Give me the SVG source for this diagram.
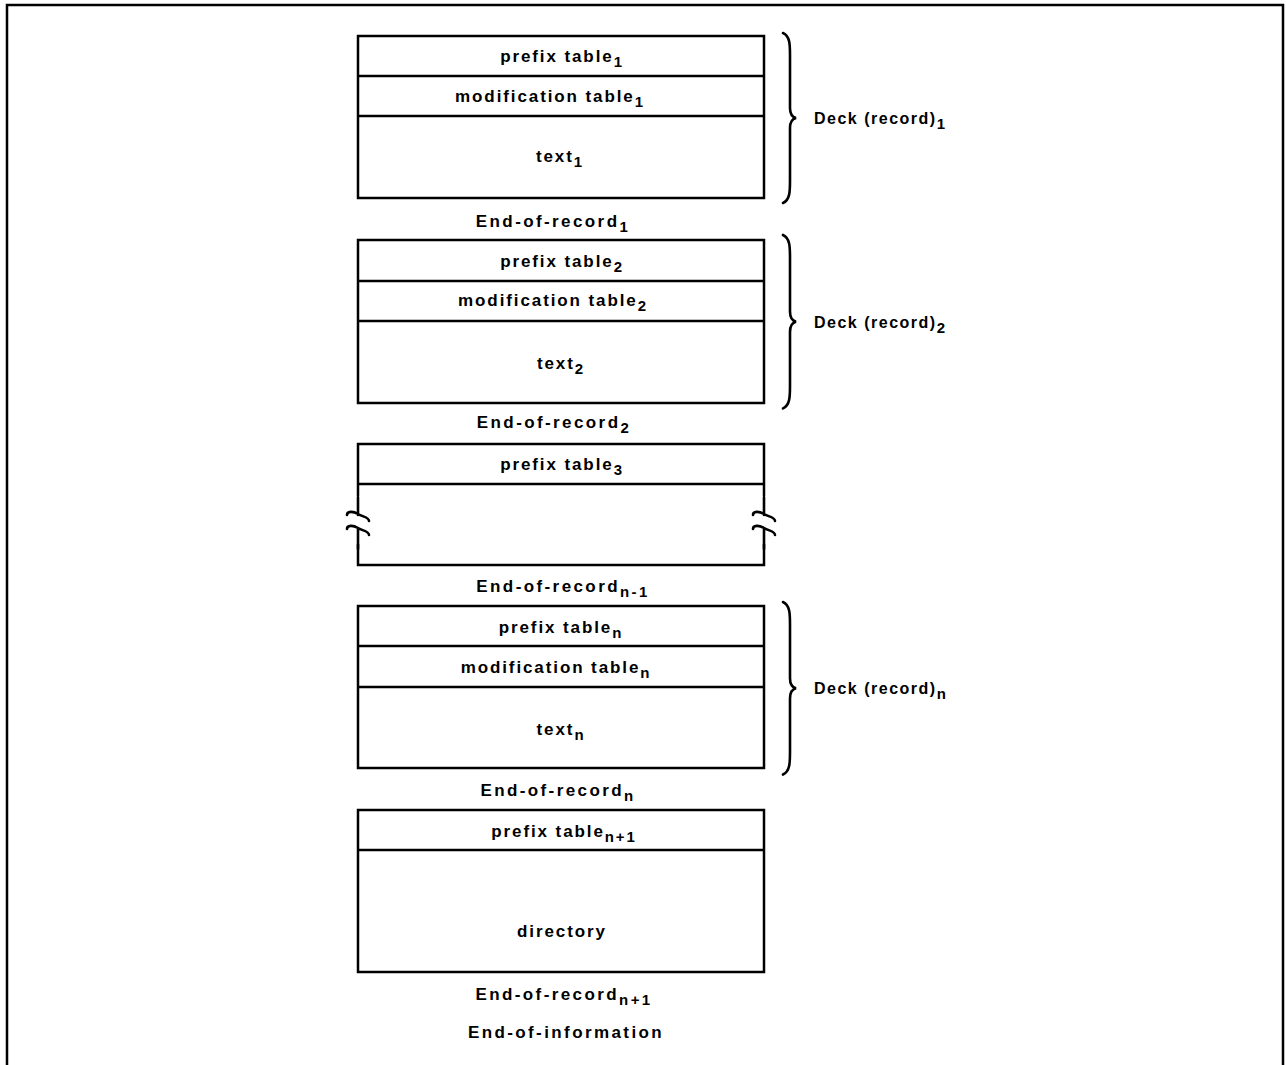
<svg xmlns="http://www.w3.org/2000/svg" width="1286" height="1065" viewBox="0 0 1286 1065">
<style>
.frame{fill:none;stroke:#000;stroke-width:2.5}
.box{fill:#fff;stroke:#000;stroke-width:2.5}
.div{stroke:#000;stroke-width:2.5}
.brace{fill:none;stroke:#000;stroke-width:2.6;stroke-linecap:round}
.brk{fill:none;stroke:#000;stroke-width:2.6;stroke-linecap:round}
text{font-family:"Liberation Sans",Arial,sans-serif;font-weight:bold;font-size:17px;letter-spacing:1.9px;fill:#000}
.c{text-anchor:middle}
.e{letter-spacing:2.4px}
.d{font-size:16px;letter-spacing:1.5px}
.s{font-size:15px}
</style>
<defs>
<path id="brace" class="brace" d="M0,0 C7,3 7,12 7,22 L7,75 C7,81 9,84 13,85 C9,86 7,89 7,95 L7,148 C7,158 7,167 0,170"/>
<path id="brk" class="brk" d="M0,-26 L0,-8 M-11,-8 C-11,-12 -5,-12 0,-9 C5,-6 11,-6 11,-2 M-11,6 C-11,2 -5,2 0,5 C5,8 11,8 11,12 M0,5 L0,26"/>
</defs>
<rect width="1286" height="1065" fill="#fff"/>
<g id="frame">
<path class="frame" d="M7,1065 L7,5 L1283,5 L1283,1065"/>
</g>
<g id="deck1">
<rect class="box" x="358" y="36" width="406" height="162"/>
<line class="div" x1="358" y1="76" x2="764" y2="76"/>
<line class="div" x1="358" y1="116" x2="764" y2="116"/>
<text class="c" x="562" y="62">prefix table<tspan class="s" dy="5">1</tspan></text>
<text class="c" x="550" y="102">modification table<tspan class="s" dy="5">1</tspan></text>
<text class="c" x="560" y="162">text<tspan class="s" dy="5">1</tspan></text>
</g>
<g id="eor1"><text class="c e" x="553" y="227">End-of-record<tspan class="s" dy="5">1</tspan></text></g>
<g id="deck2">
<rect class="box" x="358" y="240" width="406" height="163"/>
<line class="div" x1="358" y1="281" x2="764" y2="281"/>
<line class="div" x1="358" y1="321" x2="764" y2="321"/>
<text class="c" x="562" y="267">prefix table<tspan class="s" dy="5">2</tspan></text>
<text class="c" x="553" y="306">modification table<tspan class="s" dy="5">2</tspan></text>
<text class="c" x="561" y="369">text<tspan class="s" dy="5">2</tspan></text>
</g>
<g id="eor2"><text class="c e" x="554" y="428">End-of-record<tspan class="s" dy="5">2</tspan></text></g>
<g id="deck3">
<rect class="box" x="358" y="444" width="406" height="121"/>
<line class="div" x1="358" y1="484" x2="764" y2="484"/>
<text class="c" x="562" y="470">prefix table<tspan class="s" dy="5">3</tspan></text>
<rect x="340" y="496" width="40" height="48" fill="#fff"/>
<rect x="746" y="496" width="40" height="48" fill="#fff"/>
<use href="#brk" x="358" y="523"/>
<use href="#brk" x="764" y="523"/>
</g>
<g id="eorn1"><text class="c e" x="563" y="592">End-of-record<tspan class="s" dy="5">n-1</tspan></text></g>
<g id="deckn">
<rect class="box" x="358" y="606" width="406" height="162"/>
<line class="div" x1="358" y1="646" x2="764" y2="646"/>
<line class="div" x1="358" y1="687" x2="764" y2="687"/>
<text class="c" x="561" y="633">prefix table<tspan class="s" dy="5">n</tspan></text>
<text class="c" x="556" y="673">modification table<tspan class="s" dy="5">n</tspan></text>
<text class="c" x="561" y="735">text<tspan class="s" dy="5">n</tspan></text>
</g>
<g id="eorn"><text class="c e" x="558" y="796">End-of-record<tspan class="s" dy="5">n</tspan></text></g>
<g id="dir">
<rect class="box" x="358" y="810" width="406" height="162"/>
<line class="div" x1="358" y1="850" x2="764" y2="850"/>
<text class="c" x="564" y="837">prefix table<tspan class="s" dy="5">n+1</tspan></text>
<text class="c" x="562" y="937">directory</text>
</g>
<g id="eorn2"><text class="c e" x="564" y="1000">End-of-record<tspan class="s" dy="5">n+1</tspan></text></g>
<g id="eoi"><text class="c e" x="566" y="1038">End-of-information</text></g>
<g id="braces">
<use href="#brace" x="783" y="33"/>
<use href="#brace" x="783" y="235" transform="translate(0,235) scale(1,1.02) translate(0,-235)"/>
<use href="#brace" x="783" y="602" transform="translate(0,602) scale(1,1.015) translate(0,-602)"/>
<text class="d" x="814" y="124">Deck (record)<tspan class="s" dy="5">1</tspan></text>
<text class="d" x="814" y="328">Deck (record)<tspan class="s" dy="5">2</tspan></text>
<text class="d" x="814" y="694">Deck (record)<tspan class="s" dy="5">n</tspan></text>
</g>
</svg>
